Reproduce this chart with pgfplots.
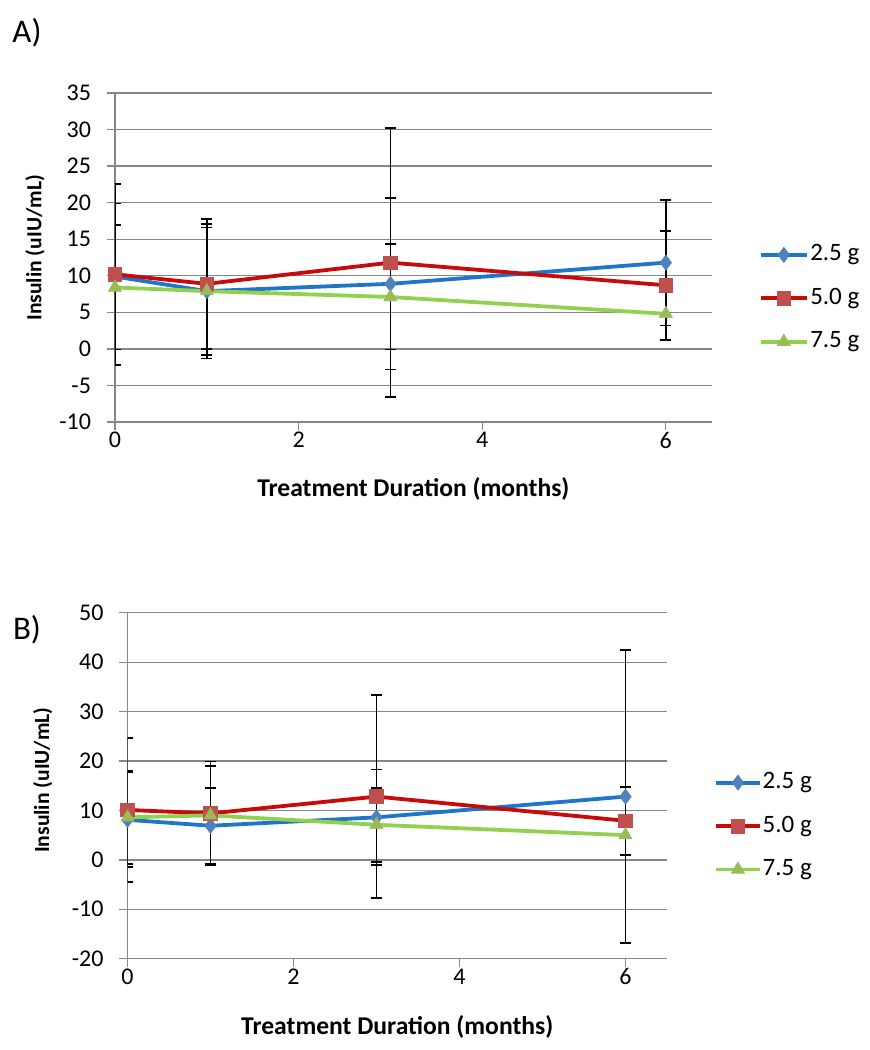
\documentclass[border=0pt]{standalone}
\usepackage{pgfplots}
\usepackage{pgfplotstable}
\pgfplotsset{compat=1.18}
\usepackage{fontspec}
\setmainfont{Carlito}
\definecolor{bline}{RGB}{30,118,200}
\definecolor{bmark}{RGB}{79,129,189}
\definecolor{rline}{RGB}{200,10,10}
\definecolor{rmark}{RGB}{192,80,77}
\definecolor{gline}{RGB}{146,208,80}
\definecolor{gmark}{RGB}{155,187,89}
\definecolor{gridc}{RGB}{134,134,134}

\pgfplotstableread{
x b be r re g ge
0 9.9 10.0 10.2 12.4 8.4 8.5
1 7.9 9.2 8.9 8.9 7.9 8.7
3 8.9 11.7 11.8 18.4 7.1 7.2
6 11.8 8.6 8.7 7.4 4.8 3.6
}\dataA

\pgfplotstableread{
x b be r re g ge
0 8.1 9.6 10.1 14.6 8.6 9.4
1 6.9 7.7 9.4 10.5 9.0 10.0
3 8.6 9.7 12.8 20.5 7.1 7.5
6 12.8 29.6 7.9 6.8 5.0 4.0
}\dataB

\pgfplotsset{
  excel/.style={
    scale only axis,
    anchor=south west,
    xmin=0, xmax=6.5,
    xtick={0,2,4,6},
    axis lines*=left,
    axis line style={draw=gridc, line width=0.65pt},
    ymajorgrids,
    major grid style={draw=gridc, line width=0.65pt},
    tick align=outside,
    major tick length=4pt,
    tick style={draw=gridc, line width=0.65pt},
    /pgf/number format/assume math mode=true,
    ticklabel style={font=\fontsize{12}{14}\selectfont},
    yticklabel style={xshift=-4.5pt},
    xticklabel style={yshift=2.5pt},
    xlabel style={font=\bfseries\fontsize{12.8}{15}\selectfont},
    ylabel style={font=\bfseries\fontsize{10.8}{13}\selectfont},
    xlabel={Treatment Duration (months)},
    ylabel={Insulin (uIU/mL)},
    legend cell align=left,
    legend style={draw=none, fill=none, inner sep=0pt, font=\fontsize{12.5}{15}\selectfont,
      nodes={inner sep=0.6pt, text height=9pt, text depth=3pt}, row sep=8.5pt, anchor=west},
    every axis plot/.append style={line width=1.9pt},
    error bars/error bar style={black, line width=0.85pt},
    error bars/error mark options={black, rotate=90, mark size=2.8pt, line width=0.85pt},
  },
  blueser/.style={color=bline, mark=diamond*, mark size=3.8pt, mark options={fill=bmark, draw=bmark, line width=0.3pt}},
  redser/.style={color=rline, mark=square*, mark size=3.4pt, mark options={fill=rmark, draw=rmark, line width=0.3pt}},
  greenser/.style={color=gline, mark=triangle*, mark size=3.8pt, mark options={fill=gmark, draw=gmark, line width=0.3pt}},
}

\begin{document}
\begin{tikzpicture}
\path[use as bounding box] (0pt,0pt) rectangle (435pt,-525pt);
\node[font=\fontsize{16.5}{19}\selectfont, anchor=center] at (13.5pt,-16.5pt) {A)};
\node[font=\fontsize{16.5}{19}\selectfont, anchor=center] at (13.5pt,-315pt) {B)};

\begin{axis}[excel,
  at={(57.5pt,-211pt)}, width=298.35pt, height=164.5pt,
  ymin=-10, ymax=35, ytick={-10,-5,...,35},
  ylabel style={at={(axis description cs:-0.1341,0.529)}, anchor=center},
  xlabel style={at={(axis description cs:0.5,0)}, anchor=center, yshift=-33.5pt},
  legend style={at={(axis description cs:1.078,0.376)}},
  legend image code/.code={\draw[mark repeat=2,mark phase=2] plot coordinates {(0pt,0pt) (11.65pt,0pt) (23.3pt,0pt)};},
]
\addplot[blueser, error bars/.cd, y dir=both, y explicit] table[x=x, y=b, y error=be] {\dataA};
\addlegendentry{2.5 g}
\addplot[redser, error bars/.cd, y dir=both, y explicit] table[x=x, y=r, y error=re] {\dataA};
\addlegendentry{5.0 g}
\addplot[greenser, error bars/.cd, y dir=both, y explicit] table[x=x, y=g, y error=ge] {\dataA};
\addlegendentry{7.5 g}
\end{axis}

\begin{axis}[excel,
  at={(63.75pt,-479.35pt)}, width=269.75pt, height=173pt,
  ymin=-20, ymax=50, ytick={-20,-10,...,50},
  ylabel style={at={(axis description cs:-0.1572,0.516)}, anchor=center},
  xlabel style={at={(axis description cs:0.5,0)}, anchor=center, yshift=-34.2pt},
  legend style={at={(axis description cs:1.087,0.3835)}},
  legend image code/.code={\draw[mark repeat=2,mark phase=2] plot coordinates {(0pt,0pt) (10.85pt,0pt) (21.7pt,0pt)};},
]
\addplot[blueser, error bars/.cd, y dir=both, y explicit] table[x=x, y=b, y error=be] {\dataB};
\addlegendentry{2.5 g}
\addplot[redser, error bars/.cd, y dir=both, y explicit] table[x=x, y=r, y error=re] {\dataB};
\addlegendentry{5.0 g}
\addplot[greenser, error bars/.cd, y dir=both, y explicit] table[x=x, y=g, y error=ge] {\dataB};
\addlegendentry{7.5 g}
\end{axis}
\end{tikzpicture}
\end{document}
